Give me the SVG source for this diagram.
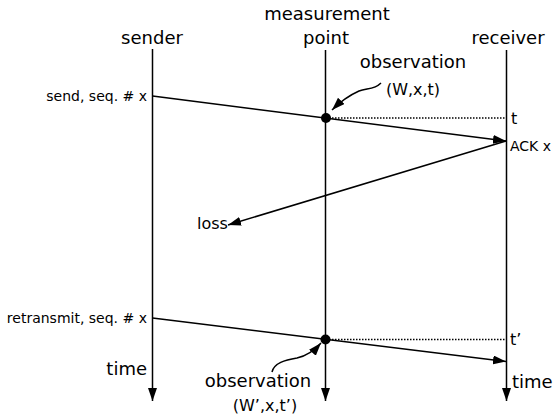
<svg xmlns="http://www.w3.org/2000/svg" width="554" height="420" viewBox="0 0 554 420">
<style>
  .ln { stroke: #000; stroke-width: 1.5; fill: none; }
  .dot { stroke: #000; stroke-width: 1.3; stroke-dasharray: 1.5 1.5; fill: none; }
  text { font-family: "DejaVu Sans", "Liberation Sans", sans-serif; fill: #000; }
  .h { font-size: 18px; }
  .s { font-size: 14px; }
  .m { font-size: 16px; }
</style>
<defs>
  <marker id="ah" markerUnits="userSpaceOnUse" markerWidth="14" markerHeight="10" refX="13" refY="4.5" orient="auto">
    <path d="M0,0 L13,4.5 L0,9 z" fill="#000"/>
  </marker>
</defs>
<rect width="554" height="420" fill="#fff"/>

<g id="sender">
  <text class="h" x="152" y="44" text-anchor="middle">sender</text>
  <text class="h" x="147" y="375" text-anchor="end">time</text>
</g>
<g id="measurement">
  <text class="h" x="327" y="20" text-anchor="middle">measurement</text>
  <text class="h" x="326" y="44" text-anchor="middle">point</text>
</g>
<g id="receiver">
  <text class="h" x="508" y="44" text-anchor="middle">receiver</text>
  <text class="h" x="512" y="388">time</text>
</g>
<g id="labels">
  <text class="s" x="147" y="101" text-anchor="end">send, seq. # x</text>
  <text class="s" x="147" y="323" text-anchor="end">retransmit, seq. # x</text>
  <text class="h" x="413" y="68" text-anchor="middle">observation</text>
  <text class="m" x="413" y="95" text-anchor="middle">(W,x,t)</text>
  <text class="m" x="511" y="124">t</text>
  <text class="s" x="510" y="151">ACK x</text>
  <text class="m" x="197" y="229">loss</text>
  <text class="m" x="510" y="345">t’</text>
  <text class="h" x="258" y="387" text-anchor="middle">observation</text>
  <text class="m" x="265" y="411" text-anchor="middle">(W’,x,t’)</text>
</g>

<g id="connectors">
  <line class="ln" x1="152.5" y1="49" x2="152.5" y2="401" marker-end="url(#ah)"/>
  <line class="ln" x1="325.5" y1="50" x2="325.5" y2="401" marker-end="url(#ah)"/>
  <line class="ln" x1="506.5" y1="50" x2="506.5" y2="401" marker-end="url(#ah)"/>
  <line class="ln" x1="152.5" y1="96" x2="506" y2="141" marker-end="url(#ah)"/>
  <line class="ln" x1="506" y1="141" x2="228" y2="225" marker-end="url(#ah)"/>
  <line class="ln" x1="152.5" y1="318" x2="506" y2="361.5" marker-end="url(#ah)"/>
  <line class="dot" x1="326" y1="118" x2="505" y2="118"/>
  <line class="dot" x1="326" y1="339.5" x2="505" y2="339.5"/>
  <path class="ln" d="M381,83 C374,90 367,88 359,91 C350,95 341,101 332,110" marker-end="url(#ah)"/>
  <path class="ln" d="M272,372 C274,363 285,360 297,358 C306,356 314,351 321,343" marker-end="url(#ah)"/>
  <circle cx="326" cy="118" r="5" fill="#000"/>
  <circle cx="325.5" cy="339.5" r="5" fill="#000"/>
</g>
</svg>
